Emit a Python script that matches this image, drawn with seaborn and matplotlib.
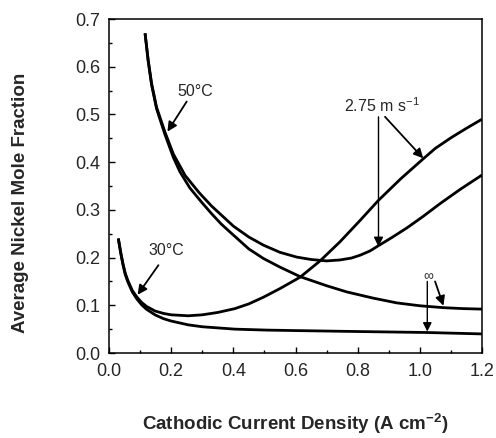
import matplotlib
matplotlib.use("Agg")
import matplotlib.pyplot as plt
from matplotlib.ticker import MultipleLocator, FormatStrFormatter
import numpy as np
import pandas as pd
import seaborn as sns

# ---- data ----
x_50_275 = [0.116, 0.126, 0.137, 0.153, 0.180, 0.207, 0.245, 0.29, 0.33, 0.40, 0.45, 0.497,
            0.55, 0.604, 0.65, 0.70, 0.743, 0.78, 0.808, 0.84, 0.867, 0.91, 0.958, 1.01,
            1.065, 1.13, 1.2]
y_50_275 = [0.670, 0.614, 0.565, 0.515, 0.463, 0.417, 0.372, 0.336, 0.308, 0.266, 0.243, 0.226,
            0.211, 0.201, 0.196, 0.193, 0.195, 0.199, 0.205, 0.214, 0.225, 0.242, 0.262, 0.286,
            0.313, 0.343, 0.373]

x_50_inf = [0.116, 0.126, 0.137, 0.153, 0.180, 0.207, 0.228, 0.26, 0.298, 0.33, 0.36, 0.38,
            0.45, 0.497, 0.55, 0.615, 0.70, 0.765, 0.85, 0.926, 1.0, 1.076, 1.14, 1.2]
y_50_inf = [0.670, 0.612, 0.562, 0.512, 0.458, 0.410, 0.380, 0.346, 0.316, 0.292, 0.271, 0.259,
            0.218, 0.198, 0.180, 0.160, 0.141, 0.128, 0.115, 0.105, 0.099, 0.095, 0.093, 0.092]

x_30_275 = [0.03, 0.038, 0.045, 0.052, 0.06, 0.075, 0.09, 0.105, 0.12, 0.148, 0.175, 0.20,
            0.255, 0.30, 0.35, 0.405, 0.45, 0.497, 0.55, 0.615, 0.679, 0.743, 0.808, 0.867,
            0.94, 1.011, 1.05, 1.1, 1.15, 1.2]
y_30_275 = [0.240, 0.210, 0.187, 0.168, 0.153, 0.131, 0.117, 0.106, 0.098, 0.088, 0.083, 0.080,
            0.078, 0.080, 0.085, 0.093, 0.103, 0.117, 0.135, 0.159, 0.193, 0.233, 0.278, 0.320,
            0.366, 0.407, 0.429, 0.451, 0.471, 0.490]

x_30_inf = [0.03, 0.038, 0.045, 0.052, 0.06, 0.075, 0.09, 0.105, 0.12, 0.148, 0.175, 0.20,
            0.255, 0.30, 0.405, 0.507, 0.60, 0.80, 1.02, 1.2]
y_30_inf = [0.240, 0.208, 0.185, 0.165, 0.150, 0.128, 0.113, 0.101, 0.092, 0.080, 0.072, 0.067,
            0.059, 0.055, 0.050, 0.048, 0.047, 0.045, 0.043, 0.040]

curve_names = ["50C 2.75", "50C inf", "30C 2.75", "30C inf"]

x_ticks = [0.0, 0.2, 0.4, 0.6, 0.8, 1.0, 1.2]
y_ticks = [0.0, 0.1, 0.2, 0.3, 0.4, 0.5, 0.6, 0.7]

frames = []
for name, xs, ys in zip(curve_names,
                        [x_50_275, x_50_inf, x_30_275, x_30_inf],
                        [y_50_275, y_50_inf, y_30_275, y_30_inf]):
    frames.append(pd.DataFrame({"x": xs, "y": ys, "curve": name}))
df = pd.concat(frames, ignore_index=True)

sns.set_style("ticks")
plt.rcParams['font.family'] = ['Liberation Sans', 'DejaVu Sans']
plt.rcParams['mathtext.fontset'] = 'custom'
plt.rcParams['mathtext.rm'] = 'Liberation Sans'
plt.rcParams['mathtext.bf'] = 'Liberation Sans:bold'

fig = plt.figure(figsize=(4.96, 4.38), dpi=100)
ax = fig.add_axes([109/496, 1 - 353/438, 373/496, 334/438])

sns.lineplot(data=df, x="x", y="y", hue="curve", units="curve", estimator=None,
             palette=["black"] * 4, legend=False, linewidth=2.0, sort=False, ax=ax,
             solid_joinstyle='round', solid_capstyle='butt')

ax.set_xlim(0, 1.2)
ax.set_ylim(0, 0.7)
ax.set_xticks(x_ticks)
ax.set_yticks(y_ticks)
ax.xaxis.set_major_formatter(FormatStrFormatter('%.1f'))
ax.yaxis.set_major_formatter(FormatStrFormatter('%.1f'))
ax.xaxis.set_minor_locator(MultipleLocator(0.1))
ax.yaxis.set_minor_locator(MultipleLocator(0.05))
ax.tick_params(which='both', direction='in', top=False, right=False, width=1.0, color='black')
ax.tick_params(which='major', length=4)
ax.tick_params(which='minor', length=2.5)
ax.tick_params(axis='x', which='major', pad=7.5, labelsize=13)
ax.tick_params(axis='y', which='major', pad=6.5, labelsize=13)
for s in ax.spines.values():
    s.set_visible(True)
    s.set_linewidth(1.1)
    s.set_color('black')

ax.set_xlabel(r"Cathodic Current Density (A cm$^{\mathbf{-2}}$)", fontsize=13.5,
              fontweight='bold')
ax.set_ylabel("Average Nickel Mole Fraction", fontsize=13.5, fontweight='bold')
ax.yaxis.label.set_va('center')
ax.xaxis.label.set_va('center')
ax.xaxis.set_label_coords(0.5, -0.212)
ax.yaxis.set_label_coords(-0.236, 0.45)

arrow = dict(arrowstyle='-|>', color='black', lw=1.3, mutation_scale=14,
             shrinkA=0, shrinkB=0)

# 50°C
ax.text(0.277, 0.548, "50°C", fontsize=11.5, ha='center', va='center')
ax.annotate("", xy=(0.188, 0.464), xytext=(0.25, 0.527), arrowprops=arrow)
# 30°C
ax.text(0.186, 0.214, "30°C", fontsize=11.5, ha='center', va='center')
ax.annotate("", xy=(0.092, 0.122), xytext=(0.159, 0.184), arrowprops=arrow)
# 2.75 m s-1
ax.text(0.877, 0.518, r"2.75 m s$^{-1}$", fontsize=11.5, ha='center', va='center')
ax.annotate("", xy=(0.867, 0.223), xytext=(0.867, 0.495),
            arrowprops=dict(arrowstyle='-|>', color='black', lw=1.0, mutation_scale=14,
                            shrinkA=0, shrinkB=0))
ax.annotate("", xy=(1.011, 0.408), xytext=(0.888, 0.495), arrowprops=arrow)
# infinity
ax.text(1.026, 0.161, "∞", fontsize=10, ha='center', va='center')
ax.annotate("", xy=(1.024, 0.045), xytext=(1.024, 0.150),
            arrowprops=dict(arrowstyle='-|>', color='black', lw=1.0, mutation_scale=13,
                            shrinkA=0, shrinkB=0))
ax.annotate("", xy=(1.076, 0.099), xytext=(1.049, 0.150), arrowprops=arrow)

fig.savefig("out.png", dpi=100)
